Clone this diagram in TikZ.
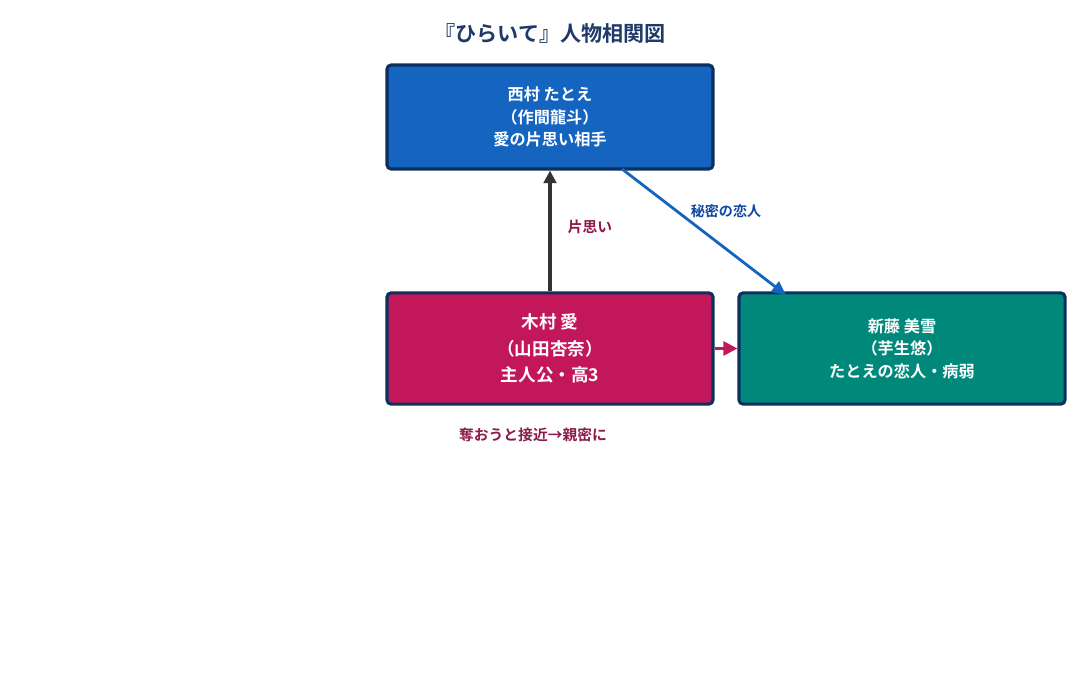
\documentclass[tikz,border=0pt]{standalone}
\usepackage{fontspec}
\setmainfont{Noto Sans CJK JP}[BoldFont={Noto Sans CJK JP Bold}]
\usetikzlibrary{arrows.meta}
\definecolor{tblue}{HTML}{1565C0}
\definecolor{tmag}{HTML}{C2185B}
\definecolor{tteal}{HTML}{00897B}
\definecolor{bord}{HTML}{0D2F5E}
\definecolor{ttl}{HTML}{1F3A68}
\definecolor{lmag}{HTML}{8B1A4A}
\definecolor{lblue}{HTML}{0D47A1}
\definecolor{dgray}{HTML}{333333}
\begin{document}
\begin{tikzpicture}[x=0.025cm,y=-0.025cm,
 box/.style={draw=bord,line width=2.2pt,rounded corners=3pt,minimum width=8.15cm,text=white,align=center,font=\bfseries\fontsize{11.5}{16}\selectfont},
 lbl/.style={font=\bfseries\fontsize{10.5}{13}\selectfont}]
\useasboundingbox (0,0) rectangle (1088,692);
\node[font=\bfseries\fontsize{15}{18}\selectfont,text=ttl] (title) at (550,33) {『ひらいて』人物相関図};
\node[box,fill=tblue,minimum height=2.6cm] (nishi) at (550,117) {西村 たとえ\\（作間龍斗）\\愛の片思い相手};
\node[box,fill=tmag,minimum height=2.78cm,font=\bfseries\fontsize{12.5}{19}\selectfont] (ai) at (550,348.5) {木村 愛\\（山田杏奈）\\主人公・高3};
\node[box,fill=tteal,minimum height=2.78cm] (miyuki) at (902,348.5) {新藤 美雪\\（芋生悠）\\たとえの恋人・病弱};
\draw[dgray,line width=2.2pt,-{Triangle[length=9pt,width=9pt]}] (ai.north) -- (nishi.south);
\node[lbl,text=lmag] (l1) at (590,227) {片思い};
\coordinate (s1) at (622,169);
\coordinate (e1) at (786,295);
\draw[tblue,line width=2pt,-{Triangle[length=10pt,width=9pt]}] (s1) -- (e1);
\node[lbl,text=lblue,font=\bfseries\fontsize{10}{12}\selectfont] (l2) at (726,211) {秘密の恋人};
\draw[tmag,line width=2pt,-{Triangle[length=10pt,width=10pt]}] (ai.east) -- (miyuki.west);
\node[lbl,text=lmag] (l3) at (533,435) {奪おうと接近→親密に};
\end{tikzpicture}
\end{document}
